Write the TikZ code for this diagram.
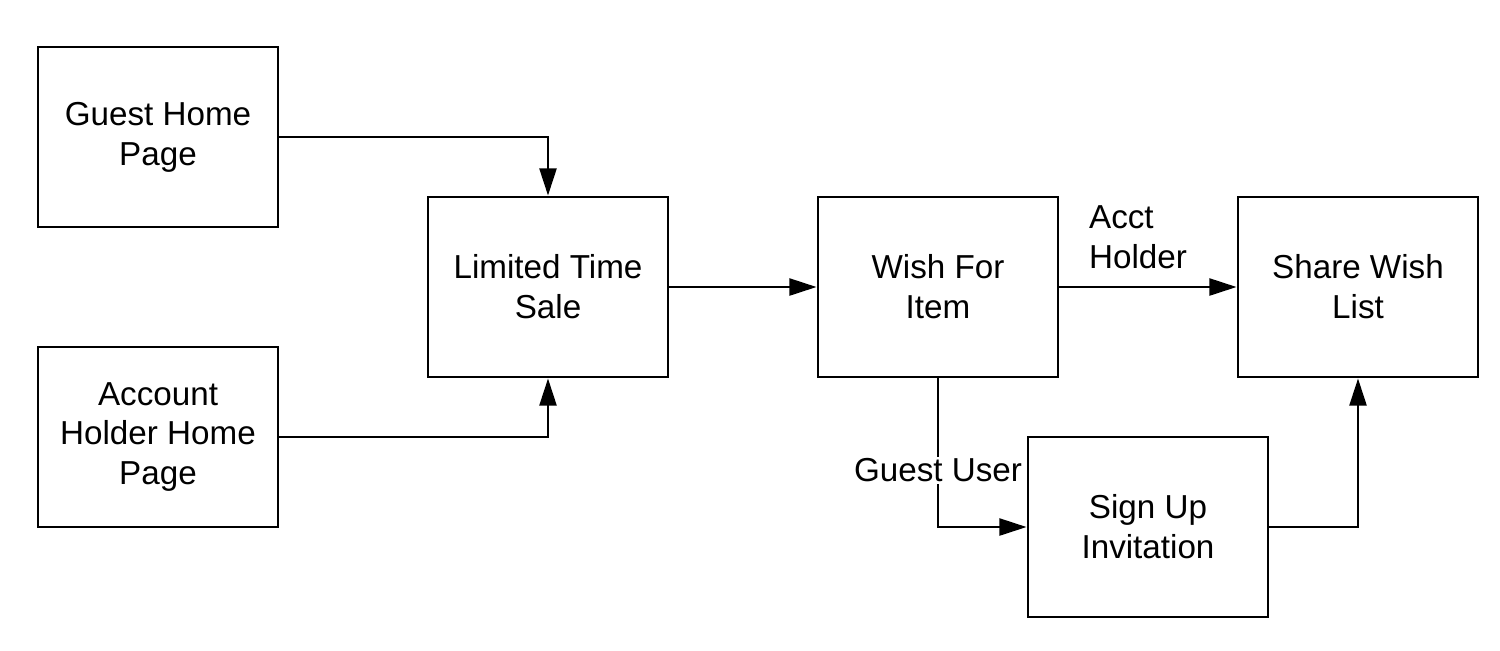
\documentclass[tikz,border=0pt]{standalone}
\usepackage{fontspec}
\setmainfont{Liberation Sans}
\usetikzlibrary{arrows.meta}
\begin{document}
\begin{tikzpicture}[x=0.02cm,y=-0.02cm,
  font=\fontsize{18.9}{22.7}\selectfont,
  box/.style={draw=black, line width=1.6pt, minimum width=4.8cm, minimum height=3.6cm, align=center, inner sep=2pt},
  arr/.style={line width=1.6pt, -{Triangle[length=15.5pt,width=9.6pt]}},
  lbl/.style={inner sep=1pt}]
\useasboundingbox (0,0) rectangle (1500,650);
\node[box] (guest) at (158,137) {Guest Home\\Page};
\node[box] (acct) at (158,437) {Account\\Holder Home\\Page};
\node[box] (lts) at (548,287) {Limited Time\\Sale};
\node[box] (wish) at (938,287) {Wish For\\Item};
\node[box] (share) at (1358,287) {Share Wish\\List};
\node[box] (sign) at (1148,527) {Sign Up\\Invitation};
\draw[arr] (guest.east) -| (lts.north);
\draw[arr] (acct.east) -| (lts.south);
\draw[arr] (lts) -- (wish);
\draw[arr] (wish) -- (share);
\node[lbl, anchor=west, align=left] (acctlbl) at (1087,237) {Acct\\Holder};
\draw[arr] (wish.south) |- (sign.west);
\node[lbl, fill=white] (gulbl) at (938,470) {Guest User};
\draw[arr] (sign.east) -| (share.south);
\end{tikzpicture}
\end{document}
